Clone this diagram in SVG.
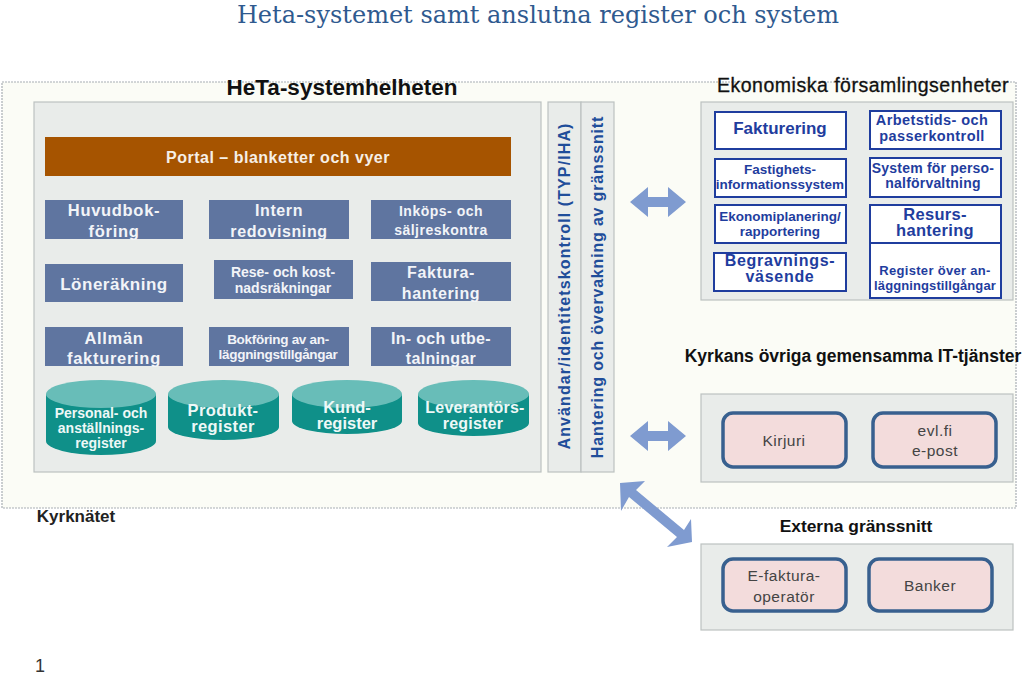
<svg xmlns="http://www.w3.org/2000/svg" width="1024" height="676" viewBox="0 0 1024 676">
<defs>
<style>
text{font-family:"Liberation Sans",Arial,sans-serif;text-anchor:middle;font-weight:bold}
.panel{fill:#e9ecea;stroke:#bcc2c0;stroke-width:1.2}
.blue rect{fill:#5f75a0}
.blue text{fill:#f2f4f8}
.white rect{fill:#fff;stroke:#1f3d9e;stroke-width:2}
.white text{fill:#1f3d9e}
.cyl path{fill:#0f9089}
.cyl ellipse{fill:#68bdb8}
.cyl text{fill:#eef8f7}
.pink rect{fill:#f3dcdc;stroke:#38608f;stroke-width:3.5}
.pink text{fill:#444;font-weight:normal;font-size:15.5px;letter-spacing:.5px}
.head{fill:#111}
.arrow{fill:#7f9bd0}
</style>
</defs>
<rect width="1024" height="676" fill="#fff"/>
<text x="538" y="23" font-size="24" fill="#2f5a8f" style="font-family:'DejaVu Serif',serif;font-weight:normal">Heta-systemet samt anslutna register och system</text>
<rect id="kyrknatet" x="2" y="82" width="1014" height="426" fill="#fbfcf6" stroke="#a8aeb4" stroke-width="1.2" stroke-dasharray="2 1"/>
<g id="heta-panel">
<rect class="panel" x="34" y="102" width="507" height="370"/>
<text class="head" x="342" y="95" style="font-size:22.500px">HeTa-systemhelheten</text>
</g>
<g id="portal"><rect x="45" y="137" width="466" height="39" fill="#a65400"/><text x="278" y="163" font-size="16" letter-spacing=".5" fill="#f6efe6">Portal – blanketter och  vyer</text></g>
<g id="huvudbok" class="blue"><rect x="45" y="200" width="138" height="39"/><text x="114" y="216" font-size="16.500" letter-spacing=".7">Huvudbok-</text><text x="114" y="237" font-size="16.500" letter-spacing=".7">föring</text></g>
<g id="intern" class="blue"><rect x="209" y="200" width="140" height="39"/><text x="279" y="216" font-size="16" letter-spacing=".6">Intern</text><text x="279" y="237" font-size="16" letter-spacing=".6">redovisning</text></g>
<g id="inkop" class="blue"><rect x="371" y="200" width="140" height="39"/><text x="441" y="216" font-size="14" letter-spacing=".5">Inköps- och</text><text x="441" y="235" font-size="14" letter-spacing=".5">säljreskontra</text></g>
<g id="lon" class="blue"><rect x="45" y="264" width="138" height="38"/><text x="114" y="290" font-size="17" letter-spacing=".5">Löneräkning</text></g>
<g id="rese" class="blue"><rect x="214" y="260" width="139" height="39"/><text x="283" y="277" font-size="14">Rese- och kost-</text><text x="283" y="293" font-size="14">nadsräkningar</text></g>
<g id="faktura" class="blue"><rect x="371" y="262" width="140" height="39"/><text x="441" y="278" font-size="16" letter-spacing=".6">Faktura-</text><text x="441" y="299" font-size="16" letter-spacing=".6">hantering</text></g>
<g id="allman" class="blue"><rect x="45" y="327" width="138" height="39"/><text x="114" y="344" font-size="16.500" letter-spacing=".7">Allmän</text><text x="114" y="364" font-size="16.500" letter-spacing=".7">fakturering</text></g>
<g id="bokforing" class="blue"><rect x="209" y="327" width="140" height="39"/><text x="278" y="344" font-size="13.500" letter-spacing="-.3">Bokföring av an-</text><text x="278" y="359" font-size="13.500" letter-spacing="-.3">läggningstillgångar</text></g>
<g id="inut" class="blue"><rect x="371" y="327" width="140" height="39"/><text x="441" y="344" font-size="16" letter-spacing=".3">In- och utbe-</text><text x="441" y="364" font-size="16" letter-spacing=".3">talningar</text></g>
<g id="personal" class="cyl"><path d="M46 394V441A55 14 0 0 0 156 441V394Z"/><ellipse cx="101" cy="394" rx="55" ry="14"/><text x="101" y="418" font-size="14">Personal- och</text><text x="101" y="433" font-size="14">anställnings-</text><text x="101" y="448" font-size="14">register</text></g>
<g id="produkt" class="cyl"><path d="M168 394V427A55.500 13 0 0 0 279 427V394Z"/><ellipse cx="223.500" cy="394" rx="55.500" ry="14"/><text x="223" y="416" font-size="16.500" letter-spacing=".4">Produkt-</text><text x="223" y="432" font-size="16.500" letter-spacing=".4">register</text></g>
<g id="kund" class="cyl"><path d="M292 394V421A55 13 0 0 0 402 421V394Z"/><ellipse cx="347" cy="394" rx="55" ry="14"/><text x="347" y="413" font-size="16.500">Kund-</text><text x="347" y="429" font-size="16.500">register</text></g>
<g id="leverantor" class="cyl"><path d="M418 394V423A55.500 13 0 0 0 529 423V394Z"/><ellipse cx="473.500" cy="394" rx="55.500" ry="14"/><text x="475" y="413" font-size="16" letter-spacing=".2">Leverantörs-</text><text x="473" y="429" font-size="16" letter-spacing=".2">register</text></g>
<g id="anvandar"><rect class="panel" x="548" y="102" width="33" height="370"/><text transform="translate(570 286) rotate(-90)" font-size="16" fill="#1f4e9a" letter-spacing="1.1">Användar/identitetskontroll (TYP/IHA)</text></g>
<g id="hantering"><rect class="panel" x="581" y="102" width="33" height="370"/><text transform="translate(603 287) rotate(-90)" font-size="16" fill="#1f4e9a" letter-spacing=".82">Hantering och övervakning av gränssnitt</text></g>
<g id="ekonomi-panel"><rect class="panel" x="701" y="102" width="312" height="198"/><text class="head" x="863" y="92" style="font-size:19.500px;font-weight:normal;stroke:#111;stroke-width:.3" letter-spacing=".5">Ekonomiska församlingsenheter</text></g>
<g id="fakturering" class="white"><rect x="715" y="112" width="131" height="37"/><text x="780" y="134" font-size="17">Fakturering</text></g>
<g id="fastighet" class="white"><rect x="715" y="159" width="131" height="38"/><text x="780" y="174" font-size="13.500">Fastighets-</text><text x="780" y="189" font-size="13.500">informationssystem</text></g>
<g id="ekoplan" class="white"><rect x="715" y="205" width="131" height="38"/><text x="780" y="221" font-size="13.500">Ekonomiplanering/</text><text x="780" y="236" font-size="13.500">rapportering</text></g>
<g id="begravning" class="white"><rect x="714" y="253" width="132" height="38"/><text x="780" y="266" font-size="16" letter-spacing=".7">Begravnings-</text><text x="780" y="282" font-size="16" letter-spacing=".7">väsende</text></g>
<g id="arbetstid" class="white"><rect x="870" y="111" width="131" height="38"/><text x="932" y="125" font-size="14.500" letter-spacing=".4">Arbetstids- och</text><text x="932" y="141" font-size="14.500" letter-spacing=".4">passerkontroll</text></g>
<g id="system" class="white"><rect x="870" y="158" width="131" height="39"/><text x="933" y="173" font-size="14" letter-spacing=".2">System för perso-</text><text x="933" y="188" font-size="14" letter-spacing=".2">nalförvaltning</text></g>
<g id="resurs" class="white"><rect x="870" y="205" width="131" height="38"/><text x="935" y="220" font-size="16.500" letter-spacing=".3">Resurs-</text><text x="935" y="236" font-size="16.500" letter-spacing=".3">hantering</text></g>
<g id="anlaggning" class="white"><rect x="870" y="243" width="131" height="55"/><text x="935" y="275" font-size="13" letter-spacing=".3">Register över an-</text><text x="935" y="290" font-size="13" letter-spacing=".1">läggningstillgångar</text></g>
<g id="kyrkans-panel"><rect class="panel" x="701" y="394" width="312" height="88"/><text class="head" x="853" y="362" style="font-size:17.500px">Kyrkans övriga gemensamma IT-tjänster</text></g>
<g id="kirjuri" class="pink"><rect x="723" y="413" width="123" height="54" rx="10"/><text x="784" y="446">Kirjuri</text></g>
<g id="evl" class="pink"><rect x="873" y="413" width="123" height="54" rx="10"/><text x="935" y="436">evl.fi</text><text x="935" y="456">e-post</text></g>
<g id="externa-panel"><rect class="panel" x="701" y="544" width="312" height="86"/><text class="head" x="856" y="532" style="font-size:17.400px">Externa gränssnitt</text></g>
<g id="efaktura" class="pink"><rect x="723" y="559" width="123" height="52" rx="10"/><text x="784" y="581">E-faktura-</text><text x="784" y="602">operatör</text></g>
<g id="banker" class="pink"><rect x="869" y="559" width="123" height="52" rx="10"/><text x="930" y="591">Banker</text></g>
<text x="76" y="522" style="font-size:17px" fill="#222">Kyrknätet</text>
<text x="40" y="672" style="font-size:18px;font-weight:normal" fill="#333">1</text>
<g id="connectors">
<path class="arrow" d="M630 202L648 187V197H668V187L686 202L668 217V207H648V217Z"/>
<path class="arrow" d="M630 436L648 421V431H668V421L686 436L668 451V441H648V451Z"/>
<path class="arrow" d="M620 483L645 481L636 490L684 530L691 519L692 542L667 547L677 537L629 497L621 511Z"/>
</g>
</svg>
